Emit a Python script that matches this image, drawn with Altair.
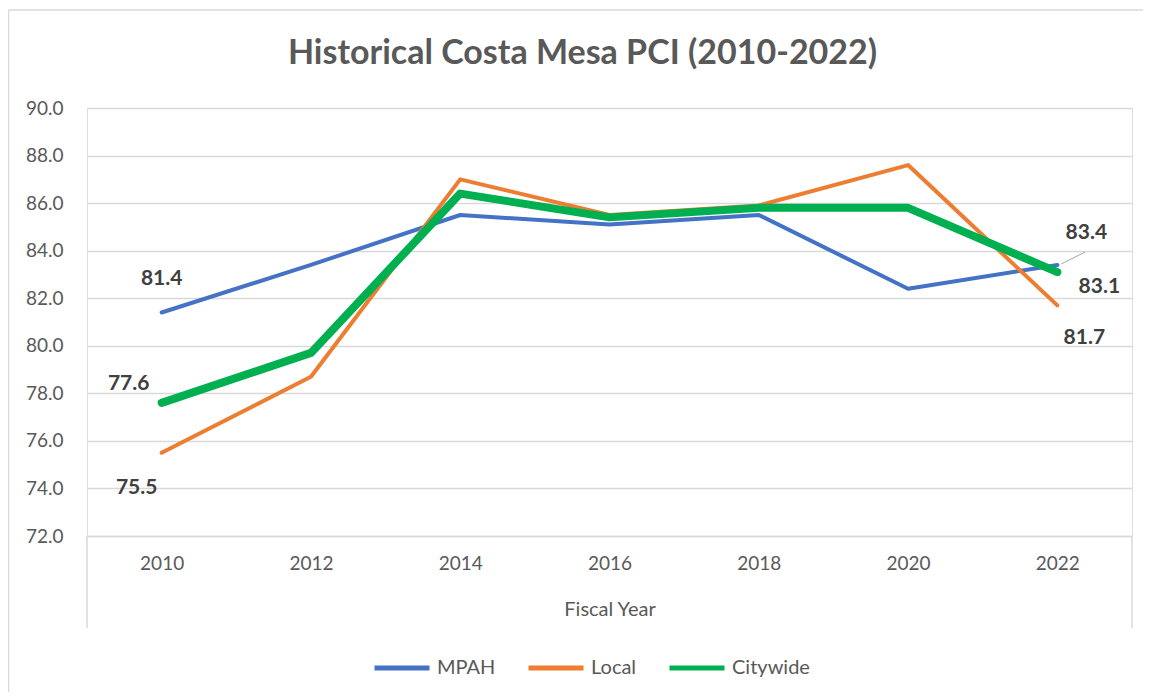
import altair as alt
import pandas as pd

years = ["2010", "2012", "2014", "2016", "2018", "2020", "2022"]
mpah = [81.4, 83.4, 85.5, 85.1, 85.5, 82.4, 83.4]
local = [75.5, 78.7, 87.0, 85.5, 85.9, 87.6, 81.7]
citywide = [77.6, 79.7, 86.4, 85.4, 85.8, 85.8, 83.1]
series_names = ["MPAH", "Local", "Citywide"]
series_colors = ["#4472C4", "#ED7D31", "#00B050"]
series_widths = [4, 4, 8]
y_ticks = [72, 74, 76, 78, 80, 82, 84, 86, 88, 90]

rows = []
for name, vals in zip(series_names, [mpah, local, citywide]):
    for yr, v in zip(years, vals):
        rows.append({"Year": yr, "Series": name, "PCI": v})
df = pd.DataFrame(rows)

W, H = 1045, 428
PAD_L, PAD_T, PAD_R, PAD_B = 79, 100, 11, 156
FONT = "Lato"
GRID = "#D9D9D9"
TXT = "#595959"
LBL = "#404040"

x_enc = alt.X(
    "Year:O",
    scale=alt.Scale(type="point", padding=0.5, domain=years),
    axis=alt.Axis(
        title="Fiscal Year", labelAngle=0, labelFontSize=19, labelPadding=18,
        titleFontSize=20, titlePadding=26, titleFontWeight="normal",
        domainColor=GRID, domainWidth=1.5, ticks=False, grid=False,
        labelColor=TXT, titleColor=TXT, labelFont=FONT, titleFont=FONT,
    ),
)
y_enc = alt.Y(
    "PCI:Q",
    scale=alt.Scale(domain=[72, 90], nice=False, zero=False),
    axis=alt.Axis(
        values=y_ticks, format=".1f", labelFontSize=19, labelPadding=24,
        grid=True, gridColor=GRID, gridWidth=1.5, domain=False, ticks=False,
        title=None, labelColor=TXT, labelFont=FONT,
    ),
)
color_enc = alt.Color(
    "Series:O", sort=series_names,
    scale=alt.Scale(domain=series_names, range=series_colors),
    legend=alt.Legend(
        orient="none", legendX=285, legendY=530, direction="horizontal",
        title=None, symbolType="stroke", symbolSize=3025, symbolStrokeWidth=5,
        labelFontSize=20, labelFont=FONT, labelColor=TXT,
        columnPadding=22, labelOffset=5,
    ),
)

base = alt.Chart(df)
line_layers = [
    base.transform_filter(alt.datum.Series == s)
    .mark_line(strokeCap="round", strokeJoin="round", strokeWidth=w)
    .encode(x=x_enc, y=y_enc, color=color_enc)
    for s, w in zip(series_names, series_widths)
]

label_specs = [
    ("MPAH", "2010", 0, -33),
    ("Citywide", "2010", -33, -19),
    ("Local", "2010", -25, 35),
    ("MPAH", "2022", 29, -32),
    ("Citywide", "2022", 42, 15),
    ("Local", "2022", 27, 33),
]
label_layers = [
    base.transform_filter((alt.datum.Series == s) & (alt.datum.Year == yr))
    .mark_text(dx=dx, dy=dy, font=FONT, fontSize=21, fontWeight="bold", color=LBL)
    .encode(x="Year:O", y="PCI:Q", text=alt.Text("PCI:Q", format=".1f"))
    for s, yr, dx, dy in label_specs
]

leader = (
    base.transform_filter((alt.datum.Series == "MPAH") & (alt.datum.Year == "2022"))
    .mark_rule(color="#A6A6A6", strokeWidth=1, xOffset=4, yOffset=-1, x2Offset=28, y2Offset=-13)
    .encode(x="Year:O", x2="Year:O", y="PCI:Q", y2="PCI:Q")
)

one = pd.DataFrame({"k": [0]})
edge_l = alt.Chart(one).mark_rule(color=GRID, strokeWidth=1.5).encode(
    x=alt.value(0), y=alt.value(H), y2=alt.value(H + 92))
edge_r = alt.Chart(one).mark_rule(color=GRID, strokeWidth=1.5).encode(
    x=alt.value(W), y=alt.value(H), y2=alt.value(H + 92))
border_top = alt.Chart(one).mark_rule(color=GRID, strokeWidth=1.5).encode(
    x=alt.value(-PAD_L + 0.5), x2=alt.value(W + PAD_R), y=alt.value(-98))
border_left = alt.Chart(one).mark_rule(color=GRID, strokeWidth=1.5).encode(
    x=alt.value(-PAD_L + 0.5), y=alt.value(-98), y2=alt.value(H + PAD_B))

chart = alt.layer(
    border_top, border_left, edge_l, edge_r, *line_layers, leader, *label_layers
).properties(
    width=W,
    height=H,
    title=alt.TitleParams(
        text="Historical Costa Mesa PCI (2010-2022)", fontSize=34, font=FONT,
        color=TXT, fontWeight="bold", offset=0, dy=62, dx=-27, anchor="middle",
    ),
    autosize=alt.AutoSizeParams(type="none"),
    padding={"left": PAD_L, "top": PAD_T, "right": PAD_R, "bottom": PAD_B},
).configure_view(stroke=None).configure(background="white")

chart.save("out.html", embed_options={"renderer": "svg", "actions": False})
